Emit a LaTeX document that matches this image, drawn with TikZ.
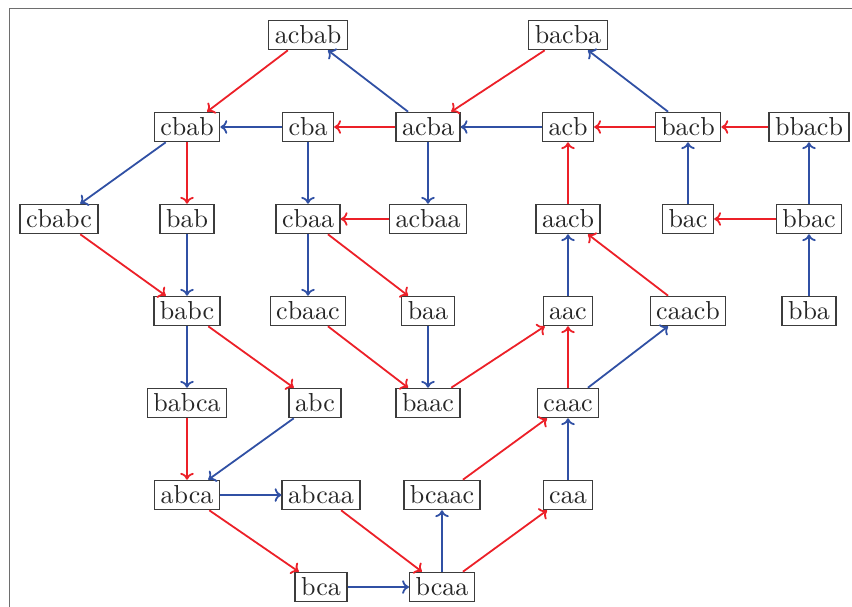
\documentclass[tikz,border=0pt]{standalone}
\usetikzlibrary{arrows.meta}
\definecolor{ered}{RGB}{236,32,40}
\definecolor{eblue}{RGB}{48,80,164}
\definecolor{boxcol}{RGB}{60,60,60}
\definecolor{framecol}{RGB}{110,110,110}
\font\lmxfont="[lmroman10-regular.otf]" at 13pt
\begin{document}
\begin{tikzpicture}[x=0.5pt,y=-0.5pt,
  wd/.style={draw=boxcol, line width=0.7pt, fill=white, inner xsep=3pt, inner ysep=0pt,
    minimum height=14.6pt, text height=8.8pt, text depth=0pt,
    font=\lmxfont, text=black!85},
  ra/.style={draw=ered, line width=0.9pt, -{To[length=3.4pt,width=6.8pt]}},
  ba/.style={draw=eblue, line width=0.9pt, -{To[length=3.4pt,width=6.8pt]}}]
\useasboundingbox (0,0) rectangle (852,606);
\clip (0,0) rectangle (852,606);
\draw[framecol, line width=0.5pt] (9,8) rectangle (900,700);
% row 1
\node[wd] (acbab) at (308,35) {acbab};
\node[wd] (bacba) at (568,35) {bacba};
% row 2
\node[wd] (cbab) at (187,127) {cbab};
\node[wd] (cba) at (308,127) {cba};
\node[wd] (acba) at (428,127) {acba};
\node[wd] (acb) at (568,127) {acb};
\node[wd] (bacb) at (688,127) {bacb};
\node[wd] (bbacb) at (809,127) {bbacb};
% row 3
\node[wd] (cbabc) at (59,219) {cbabc};
\node[wd] (bab) at (187,219) {bab};
\node[wd] (cbaa) at (308,219) {cbaa};
\node[wd] (acbaa) at (428,219) {acbaa};
\node[wd] (aacb) at (568,219) {aacb};
\node[wd] (bac) at (688,219) {bac};
\node[wd] (bbac) at (809,219) {bbac};
% row 4
\node[wd] (babc) at (187,311) {babc};
\node[wd] (cbaac) at (308,311) {cbaac};
\node[wd] (baa) at (428,311) {baa};
\node[wd] (aac) at (568,311) {aac};
\node[wd] (caacb) at (688,311) {caacb};
\node[wd] (bba) at (809,311) {bba};
% row 5
\node[wd] (babca) at (187,403) {babca};
\node[wd] (abc) at (315,403) {abc};
\node[wd] (baac) at (428,403) {baac};
\node[wd] (caac) at (568,403) {caac};
% row 6
\node[wd] (abca) at (187,495) {abca};
\node[wd] (abcaa) at (321,495) {abcaa};
\node[wd] (bcaac) at (442,495) {bcaac};
\node[wd] (caa) at (568,495) {caa};
% row 7
\node[wd] (bca) at (321,587) {bca};
\node[wd] (bcaa) at (442,587) {bcaa};
% edges
\draw[ra] (acbab) -- (cbab);
\draw[ba] (acba) -- (acbab);
\draw[ra] (bacba) -- (acba);
\draw[ba] (bacb) -- (bacba);
\draw[ba] (cba) -- (cbab);
\draw[ra] (acba) -- (cba);
\draw[ba] (acb) -- (acba);
\draw[ra] (bacb) -- (acb);
\draw[ra] (bbacb) -- (bacb);
\draw[ba] (cbab) -- (cbabc);
\draw[ra] (cbab) -- (bab);
\draw[ba] (cba) -- (cbaa);
\draw[ba] (acba) -- (acbaa);
\draw[ra] (aacb) -- (acb);
\draw[ba] (bac) -- (bacb);
\draw[ba] (bbac) -- (bbacb);
\draw[ra] (acbaa) -- (cbaa);
\draw[ra] (bbac) -- (bac);
\draw[ra] (cbabc) -- (babc);
\draw[ba] (bab) -- (babc);
\draw[ba] (cbaa) -- (cbaac);
\draw[ra] (cbaa) -- (baa);
\draw[ba] (aac) -- (aacb);
\draw[ra] (caacb) -- (aacb);
\draw[ba] (bba) -- (bbac);
\draw[ba] (babc) -- (babca);
\draw[ra] (babc) -- (abc);
\draw[ra] (cbaac) -- (baac);
\draw[ba] (baa) -- (baac);
\draw[ra] (baac) -- (aac);
\draw[ra] (caac) -- (aac);
\draw[ba] (caac) -- (caacb);
\draw[ra] (babca) -- (abca);
\draw[ba] (abc) -- (abca);
\draw[ra] (bcaac) -- (caac);
\draw[ba] (caa) -- (caac);
\draw[ba] (abca) -- (abcaa);
\draw[ra] (abca) -- (bca);
\draw[ra] (abcaa) -- (bcaa);
\draw[ba] (bcaa) -- (bcaac);
\draw[ra] (bcaa) -- (caa);
\draw[ba] (bca) -- (bcaa);
\end{tikzpicture}
\end{document}
